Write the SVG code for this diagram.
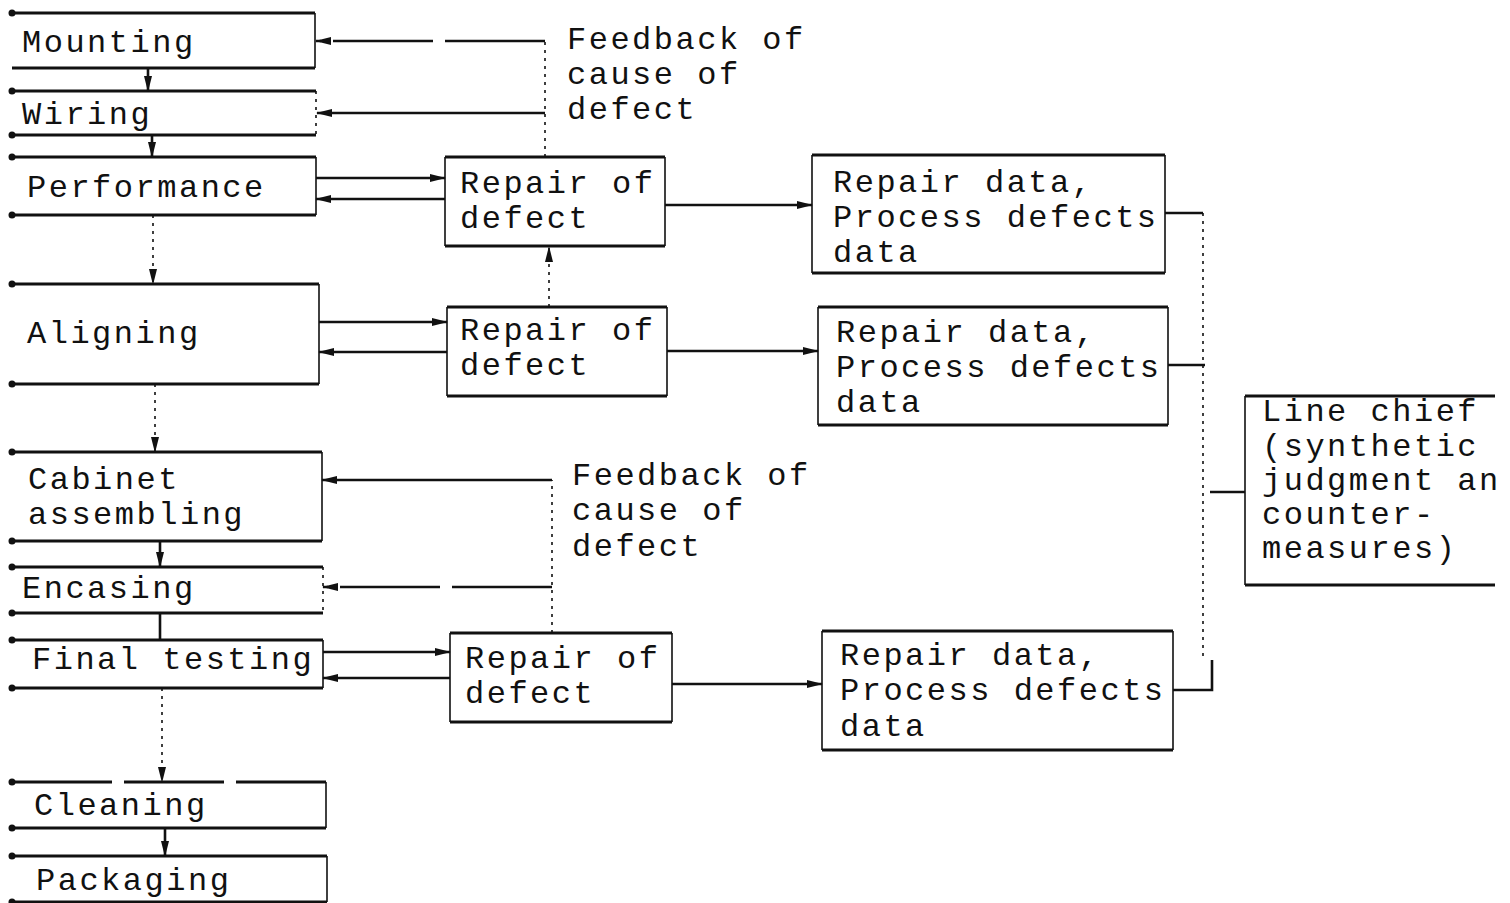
<svg xmlns="http://www.w3.org/2000/svg" width="1510" height="903" viewBox="0 0 1510 903">
<style>
.t{font-family:"Liberation Mono","DejaVu Sans Mono",monospace;font-size:32px;letter-spacing:2.5px;fill:#111}
.h{stroke:#111;stroke-width:3;fill:none}
.v{stroke:#111;stroke-width:1.6;fill:none}
.d{stroke-dasharray:3 5}
.ld{stroke-dasharray:100 12}
.c{stroke:#111;stroke-width:2.6;fill:none}
</style>
<defs>
<marker id="a" viewBox="0 0 16 8" refX="15" refY="4" markerWidth="16" markerHeight="8" markerUnits="userSpaceOnUse" orient="auto"><path d="M0,0 L16,4 L0,8 Z" fill="#111"/></marker>
<marker id="dot" viewBox="0 0 8 8" refX="4" refY="4" markerWidth="8" markerHeight="8" markerUnits="userSpaceOnUse"><circle cx="4" cy="4" r="3.5" fill="#111"/></marker>
</defs>
<rect width="1510" height="903" fill="#fff"/>

<g id="mounting">
<path class="h" d="M12,13 H315 M12,68 H315" marker-start="url(#dot)"/>
<path class="v" d="M315,13 V68"/>
<text class="t" x="22" y="52">Mounting</text>
</g>
<g id="wiring">
<path class="h" d="M12,91 H316" marker-start="url(#dot)"/>
<path class="h" d="M12,135 H316" marker-start="url(#dot)"/>
<path class="v d" d="M316,91 V135"/>
<text class="t" x="22" y="124">Wiring</text>
</g>
<g id="performance">
<path class="h" d="M12,157 H316" marker-start="url(#dot)"/>
<path class="h" d="M12,215 H316" marker-start="url(#dot)"/>
<path class="v" d="M316,157 V215"/>
<text class="t" x="27" y="197">Performance</text>
</g>
<g id="aligning">
<path class="h" d="M12,284 H319" marker-start="url(#dot)"/>
<path class="h" d="M12,384 H319" marker-start="url(#dot)"/>
<path class="v" d="M319,284 V384"/>
<text class="t" x="27" y="343">Aligning</text>
</g>
<g id="cabinet">
<path class="h" d="M12,452 H322" marker-start="url(#dot)"/>
<path class="h" d="M12,541 H322" marker-start="url(#dot)"/>
<path class="v" d="M322,452 V541"/>
<text class="t" x="28" y="489">Cabinet</text>
<text class="t" x="28" y="524">assembling</text>
</g>
<g id="encasing">
<path class="h" d="M12,567 H323" marker-start="url(#dot)"/>
<path class="h" d="M12,613 H323" marker-start="url(#dot)"/>
<path class="v d" d="M323,567 V613"/>
<text class="t" x="22" y="598">Encasing</text>
</g>
<g id="final">
<path class="h" d="M12,640 H323" marker-start="url(#dot)"/>
<path class="h" d="M12,688 H323" marker-start="url(#dot)"/>
<path class="v" d="M323,640 V688"/>
<text class="t" x="32" y="669">Final testing</text>
</g>
<g id="cleaning">
<path class="h ld" d="M12,782 H326" marker-start="url(#dot)"/>
<path class="h" d="M12,828 H326" marker-start="url(#dot)"/>
<path class="v" d="M326,782 V828"/>
<text class="t" x="34" y="815">Cleaning</text>
</g>
<g id="packaging">
<path class="h" d="M12,856 H327" marker-start="url(#dot)"/>
<path class="h" d="M12,902 H327" marker-start="url(#dot)"/>
<path class="v" d="M327,856 V902"/>
<text class="t" x="36" y="890">Packaging</text>
</g>

<g id="repair1">
<path class="h" d="M445,157 H665 M445,246 H665"/>
<path class="v" d="M445,157 V246 M665,157 V246"/>
<text class="t" x="460" y="193">Repair of</text>
<text class="t" x="460" y="228">defect</text>
</g>
<g id="repair2">
<path class="h" d="M447,307 H667 M447,396 H667"/>
<path class="v" d="M447,307 V396 M667,307 V396"/>
<text class="t" x="460" y="340">Repair of</text>
<text class="t" x="460" y="375">defect</text>
</g>
<g id="repair3">
<path class="h" d="M450,633 H672 M450,722 H672"/>
<path class="v" d="M450,633 V722 M672,633 V722"/>
<text class="t" x="465" y="668">Repair of</text>
<text class="t" x="465" y="703">defect</text>
</g>

<g id="data1">
<path class="h" d="M812,155 H1165 M812,273 H1165"/>
<path class="v" d="M812,155 V273 M1165,155 V273"/>
<text class="t" x="833" y="192">Repair data,</text>
<text class="t" x="833" y="227">Process defects</text>
<text class="t" x="833" y="262">data</text>
</g>
<g id="data2">
<path class="h" d="M818,307 H1168 M818,425 H1168"/>
<path class="v" d="M818,307 V425 M1168,307 V425"/>
<text class="t" x="836" y="342">Repair data,</text>
<text class="t" x="836" y="377">Process defects</text>
<text class="t" x="836" y="412">data</text>
</g>
<g id="data3">
<path class="h" d="M822,631 H1173 M822,750 H1173"/>
<path class="v" d="M822,631 V750 M1173,631 V750"/>
<text class="t" x="840" y="665">Repair data,</text>
<text class="t" x="840" y="700">Process defects</text>
<text class="t" x="840" y="736">data</text>
</g>
<g id="linechief">
<path class="h" d="M1245,396 H1495 M1245,585 H1495"/>
<path class="v" d="M1245,396 V585"/>
<text class="t" x="1262" y="421">Line chief</text>
<text class="t" x="1262" y="456">(synthetic</text>
<text class="t" x="1262" y="490">judgment an</text>
<text class="t" x="1262" y="524">counter-</text>
<text class="t" x="1262" y="558">measures)</text>
</g>

<g id="feedback-labels">
<text class="t" x="567" y="49">Feedback of</text>
<text class="t" x="567" y="84">cause of</text>
<text class="t" x="567" y="119">defect</text>
<text class="t" x="572" y="485">Feedback of</text>
<text class="t" x="572" y="520">cause of</text>
<text class="t" x="572" y="556">defect</text>
</g>

<g id="connectors">
<path class="c" d="M148,68 V91" marker-end="url(#a)"/>
<path class="c" d="M152,135 V157" marker-end="url(#a)"/>
<path class="v d" d="M153,215 V284" marker-end="url(#a)"/>
<path class="v d" d="M155,384 V452" marker-end="url(#a)"/>
<path class="c" d="M160,541 V567" marker-end="url(#a)"/>
<path class="c" d="M160,613 V640"/>
<path class="v d" d="M162,688 V782" marker-end="url(#a)"/>
<path class="c" d="M165,828 V856" marker-end="url(#a)"/>
<path class="v d" d="M545,157 V41"/>
<path class="c ld" d="M545,41 H316" marker-end="url(#a)"/>
<path class="c" d="M545,113 H317" marker-end="url(#a)"/>
<path class="c" d="M316,178 H445" marker-end="url(#a)"/>
<path class="c" d="M445,199 H316" marker-end="url(#a)"/>
<path class="c" d="M665,205 H812" marker-end="url(#a)"/>
<path class="v d" d="M549,307 V247" marker-end="url(#a)"/>
<path class="c" d="M319,322 H447" marker-end="url(#a)"/>
<path class="c" d="M447,352 H319" marker-end="url(#a)"/>
<path class="c" d="M667,351 H818" marker-end="url(#a)"/>
<path class="v d" d="M552,633 V480"/>
<path class="c" d="M552,480 H322" marker-end="url(#a)"/>
<path class="c ld" d="M552,587 H323" marker-end="url(#a)"/>
<path class="c" d="M323,652 H450" marker-end="url(#a)"/>
<path class="c" d="M450,678 H323" marker-end="url(#a)"/>
<path class="c" d="M672,684 H822" marker-end="url(#a)"/>
<path class="c" d="M1165,213 H1203"/>
<path class="c" d="M1168,365 H1205"/>
<path class="c" d="M1173,690 H1212 V660"/>
<path class="v d" d="M1203,213 V660"/>
<path class="c" d="M1210,492 H1245"/>
</g>
</svg>
